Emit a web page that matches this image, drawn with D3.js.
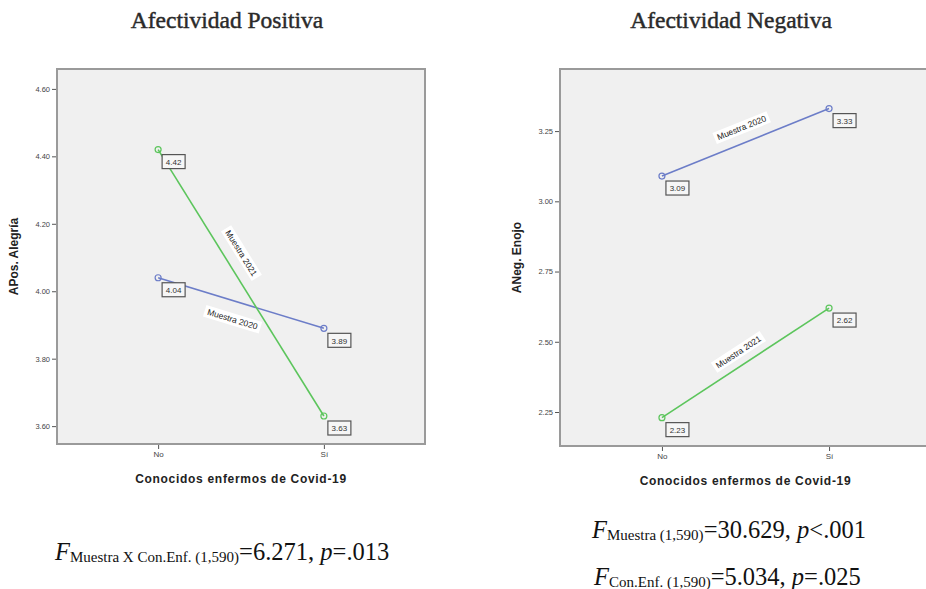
<!DOCTYPE html>
<html lang="es">
<head>
<meta charset="UTF-8" />
<title>Afectividad</title>
<style>
  body { margin: 0; background: #fff; }
  svg { display: block; }
</style>
</head>
<body>
<svg width="926" height="589"></svg>
<script src="https://cdn.jsdelivr.net/npm/d3@7/dist/d3.min.js"></script>
<script>
var categories = ["No", "Sí"];
var series = ["Muestra 2020", "Muestra 2021"];
var posValues2020 = [4.04, 3.89];
var posValues2021 = [4.42, 3.63];
var negValues2020 = [3.09, 3.33];
var negValues2021 = [2.23, 2.62];
var posTicks = [3.60, 3.80, 4.00, 4.20, 4.40, 4.60];
var negTicks = [2.25, 2.50, 2.75, 3.00, 3.25];

var colors = { "Muestra 2020": "#6c7dc8", "Muestra 2021": "#5cc55c" };
var svg = d3.select("svg");
var sans = "Liberation Sans, Arial, sans-serif";
var serif = "Liberation Serif, Times New Roman, serif";

function panel(o) {
  var x = d3.scalePoint().domain(categories).range([o.left, o.right]).padding(0.61);
  var y = d3.scaleLinear().domain(o.domain).range([o.bottom, o.top]);
  var g = svg.append("g");

  g.append("rect")
    .attr("x", o.left).attr("y", o.top)
    .attr("width", o.right - o.left).attr("height", o.bottom - o.top)
    .attr("fill", "#f0f0f0").attr("stroke", "#9a9a9a").attr("stroke-width", 2);

  // y axis
  var ya = g.append("g").attr("transform", "translate(" + (o.left - 1) + ",0)")
    .call(d3.axisLeft(y).tickValues(o.ticks).tickFormat(d3.format(".2f")).tickSize(4).tickPadding(2));
  ya.select(".domain").remove();
  ya.selectAll("line").attr("stroke", "#555");
  ya.selectAll("text").attr("font-family", sans).attr("font-size", 7.5).attr("fill", "#444");

  // x axis
  var xa = g.append("g").attr("transform", "translate(0," + (o.bottom + 1) + ")")
    .call(d3.axisBottom(x).tickSize(4).tickPadding(2));
  xa.select(".domain").remove();
  xa.selectAll("line").attr("stroke", "#555");
  xa.selectAll("text").attr("font-family", sans).attr("font-size", 8).attr("fill", "#444");

  g.append("text")
    .attr("x", (o.left + o.right) / 2).attr("y", o.bottom + 39)
    .attr("text-anchor", "middle")
    .attr("font-family", sans).attr("font-size", 12).attr("font-weight", "bold")
    .attr("letter-spacing", 0.7).attr("fill", "#222")
    .text("Conocidos enfermos de Covid-19");

  g.append("text")
    .attr("transform", "translate(" + o.yLabelX + "," + ((o.top + o.bottom) / 2) + ") rotate(-90)")
    .attr("text-anchor", "middle")
    .attr("font-family", sans).attr("font-size", 12).attr("font-weight", "bold").attr("fill", "#222")
    .text(o.yLabel);

  g.append("text")
    .attr("x", o.titleX).attr("y", 28)
    .attr("text-anchor", "middle")
    .attr("font-family", serif).attr("font-size", 23.5).attr("fill", "#2a2a2a")
    .attr("stroke", "#2a2a2a").attr("stroke-width", 0.45)
    .text(o.title);

  var line = d3.line().x(function (d, i) { return x(categories[i]); }).y(function (d) { return y(d); });

  o.values.forEach(function (vals, s) {
    var name = series[s];
    var col = colors[name];
    g.append("path").datum(vals)
      .attr("d", line).attr("fill", "none").attr("stroke", col).attr("stroke-width", 1.6);

    g.selectAll(null).data(vals).enter().append("circle")
      .attr("cx", function (d, i) { return x(categories[i]); })
      .attr("cy", function (d) { return y(d); })
      .attr("r", 3).attr("fill", "none").attr("stroke", col).attr("stroke-width", 1.2);

    // value boxes
    vals.forEach(function (v, i) {
      var bx = x(categories[i]) + 4, by = y(v) + 5;
      var b = g.append("g").attr("transform", "translate(" + bx + "," + by + ")");
      b.append("rect").attr("width", 23).attr("height", 14)
        .attr("fill", "#f6f6f6").attr("stroke", "#555").attr("stroke-width", 1.2);
      b.append("text").attr("x", 11.5).attr("y", 10.2).attr("text-anchor", "middle")
        .attr("font-family", sans).attr("font-size", 8).attr("fill", "#333")
        .text(v.toFixed(2));
    });

    // series label along the line
    var lp = o.labelPos[s];
    var x0 = x(categories[0]), y0 = y(vals[0]), x1 = x(categories[1]), y1 = y(vals[1]);
    var dx = x1 - x0, dy = y1 - y0, len = Math.sqrt(dx * dx + dy * dy);
    var ux = dx / len, uy = dy / len;
    var nx = lp.side * -uy, ny = lp.side * ux;
    var cx = x0 + dx * lp.t + nx * lp.off, cy = y0 + dy * lp.t + ny * lp.off;
    var ang = Math.atan2(dy, dx) * 180 / Math.PI;
    var lg = g.append("g").attr("transform", "translate(" + cx + "," + cy + ") rotate(" + ang + ")");
    var rect = lg.append("rect").attr("fill", "#fff");
    var t = lg.append("text").attr("text-anchor", "middle").attr("dy", "0.35em")
      .attr("font-family", sans).attr("font-size", 8.5).attr("fill", "#222").text(name);
    var bb = t.node().getBBox();
    rect.attr("x", bb.x - 3).attr("y", bb.y - 1).attr("width", bb.width + 6).attr("height", bb.height + 2);
  });
}

panel({
  left: 57, right: 425, top: 69, bottom: 444,
  domain: [3.547, 4.659], ticks: posTicks,
  values: [posValues2020, posValues2021],
  labelPos: [{ t: 0.48, off: 18, side: 1 }, { t: 0.42, off: 16, side: -1 }],
  yLabel: "APos. Alegría", yLabelX: 18,
  title: "Afectividad Positiva", titleX: 227
});

panel({
  left: 560, right: 931, top: 69, bottom: 446,
  domain: [2.129, 3.471], ticks: negTicks,
  values: [negValues2020, negValues2021],
  labelPos: [{ t: 0.51, off: 15, side: -1 }, { t: 0.5, off: 13, side: -1 }],
  yLabel: "ANeg. Enojo", yLabelX: 521,
  title: "Afectividad Negativa", titleX: 731
});

// F statistics
function stat(xp, yp, sub, rest, op, pval) {
  var t = svg.append("text").attr("x", xp).attr("y", yp)
    .attr("font-family", serif).attr("font-size", 24.5).attr("fill", "#111");
  t.append("tspan").attr("font-style", "italic").text("F");
  t.append("tspan").attr("font-size", 15).attr("dy", 2).text(sub);
  t.append("tspan").attr("dy", -2).text(rest + ", ");
  t.append("tspan").attr("font-style", "italic").text("p");
  t.append("tspan").text(op + pval);
}
stat(55, 560, "Muestra X Con.Enf. (1,590)", "=6.271", "=", ".013");
stat(592, 538, "Muestra (1,590)", "=30.629", "<", ".001");
stat(594, 585, "Con.Enf. (1,590)", "=5.034", "=", ".025");
</script>
</body>
</html>
